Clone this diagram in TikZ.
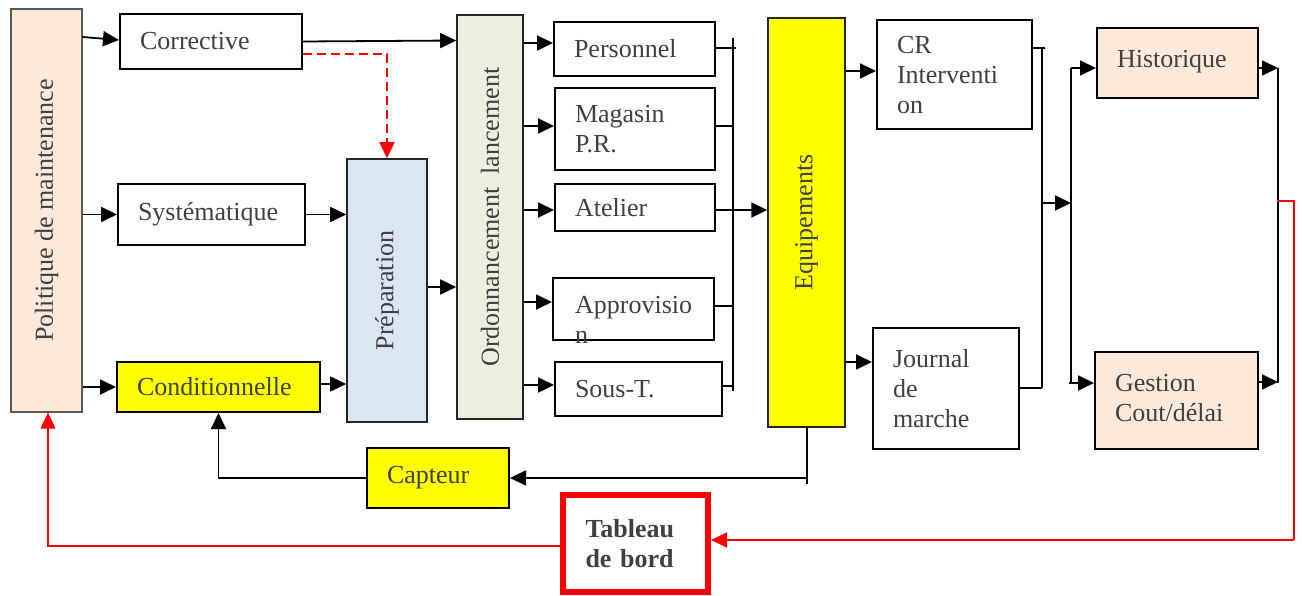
\documentclass[tikz,border=0pt]{standalone}
\usepackage{fontspec}
\setmainfont{Liberation Serif}
\usetikzlibrary{arrows.meta}
\definecolor{txt}{HTML}{404040}
\definecolor{peach}{HTML}{FDE9D9}
\definecolor{bluebox}{HTML}{DCE6F2}
\definecolor{greenbox}{HTML}{EBEFDF}
\definecolor{yel}{HTML}{FFFF00}
\definecolor{rd}{HTML}{FF0000}
\tikzset{
  box/.style={draw=black, line width=2pt, rectangle, inner ysep=0pt, inner xsep=20pt,
    align=left, text=txt, font=\fontsize{26}{30}\selectfont},
  vbox/.style={draw=black!85, line width=1.6pt, rectangle, inner sep=0pt,
    align=center, text=txt, font=\fontsize{26}{30}\selectfont},
  lbl/.style={inner sep=0pt, text=txt, font=\fontsize{26}{30}\selectfont},
  arr/.style={line width=1.8pt, -{Triangle[length=16pt,width=15pt]}},
  ln/.style={line width=1.3pt},
  redarr/.style={draw=rd, line width=1.2pt, -{Triangle[length=16pt,width=15pt]}},
  redln/.style={draw=rd, line width=1.2pt},
  reddash/.style={draw=rd, line width=1.3pt, dash pattern=on 9pt off 5pt, -{Triangle[length=16pt,width=15pt]}},
}
\begin{document}
\begin{tikzpicture}[x=1pt,y=-1pt]
\useasboundingbox (0,0) rectangle (1302,596);

% left column
\node[vbox, draw=black!65, line width=1.3pt, fill=peach, minimum width=71pt, minimum height=403pt] (pol) at (46.5,210.5) {\rotatebox{90}{Politique de maintenance}};
\node[box, minimum width=182pt, minimum height=55pt, text width=142pt] (corr) at (211,41.5) {Corrective};
\node[box, minimum width=187pt, minimum height=61pt, text width=147pt] (syst) at (211.5,214.5) {Systématique};
\node[box, fill=yel, minimum width=203pt, minimum height=50pt, text width=163pt] (cond) at (218.5,387) {Conditionnelle};
\node[vbox, fill=bluebox, minimum width=80pt, minimum height=263pt] (prep) at (387,290.5) {\rotatebox{90}{Préparation}};
\node[vbox, fill=greenbox, minimum width=66pt, minimum height=404pt] (ord) at (490,217) {\rotatebox{90}{Ordonnancement\ \ lancement}};

% resources
\node[box, minimum width=161pt, minimum height=54pt, text width=121pt] (pers) at (634.5,49) {Personnel};
\node[box, minimum width=160pt, minimum height=82pt, text width=120pt] (mag) at (635,129) {Magasin\\P.R.};
\node[box, minimum width=160pt, minimum height=47pt, text width=120pt] (atel) at (635,207.5) {Atelier};
\node[box, minimum width=161pt, minimum height=62pt] (appro) at (633.5,309) {};
\node[lbl, anchor=base west] (approt1) at (575,313) {Approvisio};
\node[lbl, anchor=base west] (approt2) at (575,343) {n};
\node[box, minimum width=167pt, minimum height=54pt, text width=127pt] (sous) at (638.5,389) {Sous-T.};

% equipment and outputs
\node[vbox, fill=yel, line width=1.4pt, minimum width=77pt, minimum height=409pt] (equip) at (806.5,222.5) {\rotatebox{90}{Equipements}};
\node[box, minimum width=155pt, minimum height=109pt, text width=115pt] (cr) at (954.5,75) {CR\\Interventi\\on};
\node[box, minimum width=146pt, minimum height=121pt, text width=106pt] (jour) at (946,388.5) {Journal\\de\\marche};
\node[box, fill=peach, minimum width=161pt, minimum height=70pt, text width=121pt] (hist) at (1177.5,63) {\raisebox{9pt}{Historique}};
\node[box, fill=peach, minimum width=163pt, minimum height=97pt, text width=123pt] (gest) at (1176.5,400.5) {\raisebox{9pt}{\begin{tabular}{@{}l@{}}Gestion\\Cout/délai\end{tabular}}};
\node[box, fill=yel, minimum width=142pt, minimum height=60pt, text width=102pt] (capt) at (438,478) {Capteur};
\node[box, draw=rd, line width=6pt, minimum width=145pt, minimum height=97pt, text width=100pt, inner xsep=22pt, font=\fontsize{26}{30}\selectfont\bfseries] (tab) at (635.5,543.5) {Tableau\\de bord};

% connectors from politique
\draw[arr] (pol.east |- 0,37) -- (corr.west |- 0,40);
\draw[arr] (pol.east |- syst.west) -- (syst.west);
\draw[arr] (pol.east |- cond.west) -- (cond.west);

% into preparation / ordonnancement
\draw[arr] (corr.east) -- (ord.west |- 0,40.5);
\draw[reddash] (corr.east |- 0,54) -| (prep.north);
\draw[arr] (syst.east) -- (prep.west |- syst.east);
\draw[arr] (cond.east |- 0,384) -- (prep.west |- 0,384);
\draw[arr] (prep.east |- 0,287) -- (ord.west |- 0,287);

% ordonnancement to resources
\draw[arr] (ord.east |- 0,43) -- (pers.west |- 0,43);
\draw[arr] (ord.east |- 0,126) -- (mag.west |- 0,126);
\draw[arr] (ord.east |- 0,210) -- (atel.west |- 0,210);
\draw[arr] (ord.east |- 0,302) -- (appro.west |- 0,302);
\draw[arr] (ord.east |- 0,385) -- (sous.west |- 0,385);

% bus 1
\coordinate (b1t) at (733,38);
\coordinate (b1b) at (733,391);
\draw[ln] (b1t) -- (b1b);
\draw[ln] (pers.east |- 0,48) -- ([xshift=3pt]b1t |- 0,48);
\draw[ln] (mag.east |- 0,126) -- (b1t |- 0,126);
\draw[ln] (appro.east |- 0,306) -- (b1t |- 0,306);
\draw[ln] (sous.east |- 0,386) -- (b1t |- 0,386);
\draw[ln] (atel.east |- 0,210) -- (b1t |- 0,210);
\draw[arr] (b1t |- 0,210) -- (equip.west |- 0,210);

% equipment outputs
\draw[arr] (equip.east |- 0,71) -- (cr.west |- 0,71);
\draw[arr] (equip.east |- 0,362) -- (jour.west |- 0,362);
\coordinate (eqb) at (807,484);
\draw[ln] (equip.south -| eqb) -- (eqb);
\draw[arr] (eqb |- capt.east) -- (capt.east);
\draw[arr] (capt.west) -| (cond.south);

% bus 2 and 3
\coordinate (b2t) at (1042,48);
\coordinate (b2b) at (1042,388);
\draw[ln] (b2t) -- (b2b);
\draw[ln] (cr.east |- b2t) -- ([xshift=3pt]b2t);
\draw[ln] (jour.east |- b2b) -- (b2b);
\coordinate (b3t) at (1071,68);
\coordinate (b3b) at (1071,383);
\draw[ln] (b3t) -- (b3b);
\draw[arr] ([xshift=-1pt]b2t |- 0,203) -- (b3t |- 0,203);
\draw[arr] (b3t) -- (hist.west |- b3t);
\draw[arr] ([xshift=-2pt]b3b) -- (gest.west |- b3b);

% right collector
\coordinate (rt) at (1278,68);
\coordinate (rb) at (1278,383);
\draw[ln] (rt) -- (rb);
\draw[arr] (hist.east |- rt) -- (rt);
\draw[arr] (gest.east |- 0,382) -- (rb |- 0,382);

% red feedback
\coordinate (r1) at (1277,201);
\coordinate (r2) at (1294,201);
\coordinate (r3) at (1294,540);
\draw[redln] (r1) -- (r2) -- (r3);
\draw[redarr] (r3) -- (tab.east |- r3);
\draw[redarr] (tab.west |- 0,546) -| ([xshift=1.5pt]pol.south);
\end{tikzpicture}
\end{document}
